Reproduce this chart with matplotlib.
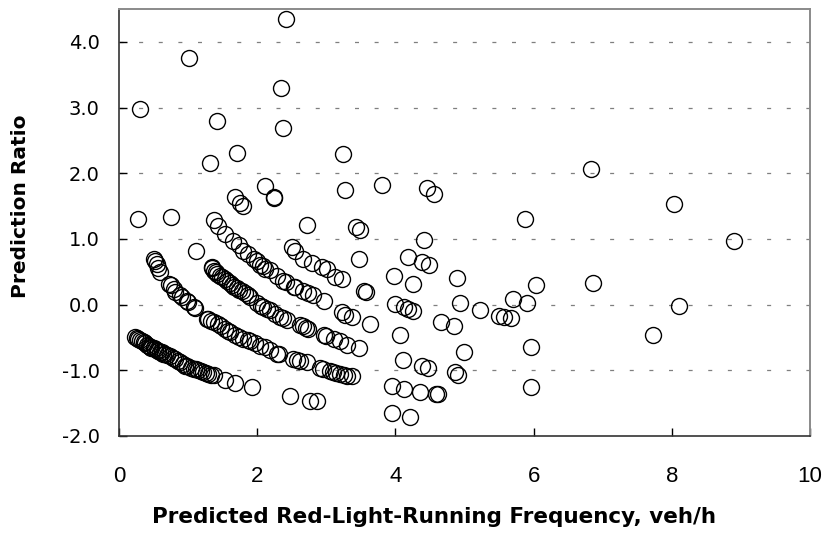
import matplotlib.pyplot as plt

plt.rcParams['font.family'] = ['Liberation Sans', 'DejaVu Sans']

# predicted frequency (veh/h) and prediction ratio, grouped roughly by band
low_x = [0.23, 0.26, 0.28, 0.31, 0.33, 0.36, 0.38, 0.41, 0.43, 0.45, 0.47, 0.50, 0.52, 0.55,
         0.57, 0.60, 0.62, 0.64, 0.66, 0.70, 0.74, 0.78, 0.81, 0.85, 0.88, 0.92, 0.96, 0.99,
         1.04, 1.08, 1.12, 1.15, 1.19, 1.22, 1.26, 1.29, 1.33, 1.37, 1.54, 1.68, 1.92]
low_y = [-0.50, -0.51, -0.52, -0.54, -0.55, -0.57, -0.58, -0.61, -0.63, -0.64, -0.66, -0.67,
         -0.68, -0.70, -0.71, -0.72, -0.73, -0.75, -0.76, -0.77, -0.78, -0.81, -0.83, -0.86,
         -0.88, -0.90, -0.93, -0.94, -0.96, -0.98, -0.99, -1.00, -1.02, -1.03, -1.05, -1.06,
         -1.07, -1.08, -1.15, -1.20, -1.25]

band2_x = [0.50, 0.52, 0.55, 0.57, 0.59, 0.72, 0.75, 0.79, 0.81, 0.88, 0.91, 0.98, 1.00, 1.08,
           1.10, 1.27, 1.29, 1.33, 1.37, 1.44, 1.48, 1.54, 1.58, 1.61, 1.68, 1.74, 1.80, 1.86,
           1.90, 1.97, 2.04, 2.12, 2.19, 2.29, 2.31, 2.52, 2.57, 2.62, 2.72, 2.91, 2.95, 3.06,
           3.10, 3.14, 3.20, 3.25, 3.30, 3.37]
band2_y = [0.70, 0.66, 0.62, 0.56, 0.50, 0.32, 0.29, 0.24, 0.19, 0.14, 0.11, 0.06, 0.04, -0.04,
           -0.06, -0.22, -0.22, -0.25, -0.27, -0.30, -0.33, -0.37, -0.40, -0.42, -0.47, -0.50,
           -0.52, -0.54, -0.55, -0.58, -0.63, -0.65, -0.69, -0.75, -0.76, -0.83, -0.85, -0.86,
           -0.88, -0.96, -0.98, -1.01, -1.03, -1.04, -1.06, -1.08, -1.09, -1.09]

band3_x = [1.34, 1.35, 1.37, 1.40, 1.42, 1.46, 1.49, 1.53, 1.56, 1.60, 1.63, 1.66, 1.71, 1.74,
           1.78, 1.82, 1.87, 1.90, 2.00, 2.05, 2.09, 2.14, 2.19, 2.26, 2.33, 2.38, 2.43, 2.62,
           2.66, 2.70, 2.74, 2.96, 2.99, 3.11, 3.20, 3.30, 3.47]
band3_y = [0.57, 0.55, 0.51, 0.49, 0.47, 0.44, 0.42, 0.39, 0.36, 0.33, 0.29, 0.27, 0.25, 0.22,
           0.20, 0.17, 0.14, 0.11, 0.03, -0.02, -0.04, -0.07, -0.09, -0.14, -0.19, -0.20, -0.24,
           -0.31, -0.33, -0.36, -0.37, -0.47, -0.48, -0.52, -0.56, -0.61, -0.66]

band4_x = [1.37, 1.44, 1.54, 1.65, 1.73, 1.80, 1.87, 1.95, 2.00, 2.04, 2.09, 2.12, 2.18, 2.29,
           2.38, 2.41, 2.53, 2.55, 2.67, 2.74, 2.81, 2.96, 3.23, 3.27, 3.37, 3.64]
band4_y = [1.29, 1.19, 1.08, 0.97, 0.90, 0.82, 0.77, 0.69, 0.66, 0.60, 0.58, 0.54, 0.52, 0.44,
           0.36, 0.35, 0.27, 0.26, 0.20, 0.17, 0.14, 0.06, -0.12, -0.16, -0.19, -0.30]

other_x = [2.42, 1.01, 0.30, 2.34, 1.42, 2.37, 1.71, 1.32, 3.24, 2.12, 2.24, 2.25, 1.68, 1.75,
           1.80, 3.27, 3.81, 4.46, 4.56, 5.88, 6.83, 8.03, 8.90, 0.28, 0.76, 2.72, 1.12, 3.43,
           3.49, 4.42, 3.47, 4.18, 4.39, 4.48, 3.98, 4.26, 4.89, 6.04, 6.86, 8.11, 7.73, 3.54,
           3.57, 4.00, 4.12, 4.19, 4.26, 4.94, 5.22, 5.50, 5.57, 5.67, 5.70, 5.91, 4.66, 4.85,
           4.07, 4.99, 5.96, 4.11, 4.39, 4.47, 4.87, 4.90, 3.95, 4.13, 4.36, 4.59, 4.61, 5.97,
           3.95, 4.21, 2.47, 2.77, 2.87, 2.50, 2.55, 2.67, 2.79, 2.94, 3.01, 3.13, 3.23]
other_y = [4.35, 3.75, 2.98, 3.30, 2.79, 2.69, 2.31, 2.15, 2.29, 1.80, 1.64, 1.62, 1.64, 1.54,
           1.50, 1.75, 1.82, 1.77, 1.69, 1.31, 2.06, 1.53, 0.97, 1.31, 1.34, 1.21, 0.81, 1.18,
           1.13, 0.99, 0.70, 0.72, 0.65, 0.60, 0.43, 0.31, 0.41, 0.30, 0.33, -0.02, -0.46, 0.21,
           0.19, 0.01, -0.04, -0.07, -0.10, 0.03, -0.08, -0.18, -0.19, -0.21, 0.08, 0.03, -0.27,
           -0.32, -0.46, -0.72, -0.64, -0.85, -0.94, -0.97, -1.03, -1.07, -1.24, -1.29, -1.34,
           -1.36, -1.37, -1.26, -1.66, -1.71, -1.39, -1.47, -1.47, 0.87, 0.82, 0.70, 0.64, 0.57,
           0.54, 0.42, 0.39]

xs = low_x + band2_x + band3_x + band4_x + other_x
ys = low_y + band2_y + band3_y + band4_y + other_y

y_ticks = [-2, -1, 0, 1, 2, 3, 4]
x_ticks = [0, 2, 4, 6, 8, 10]

fig = plt.figure(figsize=(8.28, 5.40), dpi=100)
ax = fig.add_axes([0.1437, 0.193, 0.8345, 0.790])

ax.plot(xs, ys, 'o', mfc='none', mec='black', ms=11.5, mew=1.0, zorder=3)

ax.set_xlim(0, 10)
ax.set_ylim(-2, 4.5)
ax.set_xticks(x_ticks)
ax.set_xticklabels([str(v) for v in x_ticks], fontsize=16)
ax.set_yticks(y_ticks)
ax.set_yticklabels(['%.1f' % v for v in y_ticks], family=['DejaVu Sans'], fontsize=14)

for v in y_ticks[1:]:
    ax.axhline(v, color='#7f7f7f', lw=0.9, ls=(0, (3.2, 12.5)), zorder=1)

ax.tick_params(direction='in', length=6, width=1, colors='black')
ax.tick_params(axis='y', pad=14)
ax.tick_params(axis='x', pad=22)
for s in ['left', 'bottom']:
    ax.spines[s].set_color('#333333')
    ax.spines[s].set_linewidth(1.2)
for s in ['top', 'right']:
    ax.spines[s].set_color('#8a8a8a')
    ax.spines[s].set_linewidth(1.4)

ax.set_xlabel('Predicted Red-Light-Running Frequency, veh/h', fontsize=15.5,
              fontweight='bold', family=['DejaVu Sans'])
ax.set_ylabel('Prediction Ratio', fontsize=14.5, fontweight='bold', family=['DejaVu Sans'])
ax.xaxis.set_label_coords(0.4566, -0.167)
ax.yaxis.set_label_coords(-0.129, 0.539)

fig.savefig('out.png', dpi=100)
